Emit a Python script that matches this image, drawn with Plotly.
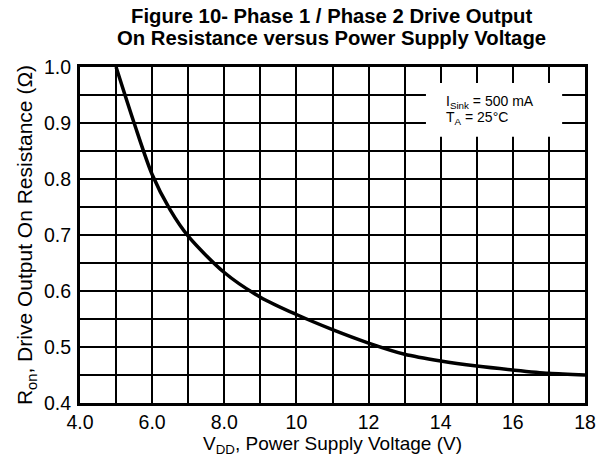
import plotly.graph_objects as go

vdd = [5.0, 5.5, 6.0, 6.5, 7.0, 8.0, 9.0, 10.0, 11.0, 12.0, 13.0, 14.0, 15.0, 16.0, 17.0, 18.0]
ron = [1.0, 0.90, 0.808, 0.745, 0.698, 0.633, 0.589, 0.558, 0.531, 0.507, 0.487, 0.475, 0.466, 0.459, 0.453, 0.450]

x_tickvals = [4, 6, 8, 10, 12, 14, 16, 18]
x_ticktext = ["4.0", "6.0", "8.0", "10", "12", "14", "16", "18"]
y_tickvals = [0.4, 0.5, 0.6, 0.7, 0.8, 0.9, 1.0]
y_ticktext = ["0.4", "0.5", "0.6", "0.7", "0.8", "0.9", "1.0"]

title_lines = ["<b>Figure 10- Phase 1 / Phase 2 Drive Output</b>",
               "<b>On Resistance versus Power Supply Voltage</b>"]
note_lines = ["I<sub>Sink</sub> = 500 mA", "T<sub>A</sub> = 25°C"]

FONT = "Arial, Liberation Sans, sans-serif"
L, R, T, B = 80, 588, 67, 404
PW, PH = R - L, B - T

def px(x):
    return (x - L) / PW

def py(y):
    return (B - y) / PH

fig = go.Figure()
fig.add_trace(go.Scatter(x=vdd, y=ron, mode="lines", line=dict(color="black", width=3.5, shape="spline", smoothing=0.8),
                         showlegend=False, hoverinfo="skip"))

fig.update_layout(
    width=608, height=463,
    margin=dict(l=L, r=608 - R, t=T, b=463 - B),
    paper_bgcolor="white", plot_bgcolor="white",
    font=dict(family=FONT, color="black", size=19),
    xaxis=dict(range=[4, 18], tickvals=x_tickvals, ticktext=x_ticktext, showgrid=True, gridcolor="black", gridwidth=2,
               minor=dict(dtick=1, tick0=4, showgrid=True, gridcolor="black", gridwidth=2),
               showline=True, linecolor="black", linewidth=3, mirror=True, ticks="", zeroline=False,
               tickfont=dict(size=19.5), ticklabelstandoff=0,
               title=dict(text="V<sub>DD</sub>, Power Supply Voltage (V)", font=dict(size=19), standoff=4)),
    yaxis=dict(range=[0.4, 1.0], tickvals=y_tickvals, ticktext=y_ticktext, showgrid=True, gridcolor="black", gridwidth=2,
               minor=dict(dtick=0.05, tick0=0.4, showgrid=True, gridcolor="black", gridwidth=2),
               showline=True, linecolor="black", linewidth=3, mirror=True, ticks="", zeroline=False,
               tickfont=dict(size=19.5), ticklabelstandoff=2,
               title=dict(text="R<sub>on</sub>, Drive Output On Resistance (Ω)", font=dict(size=21), standoff=6)),
)

for t, yc in zip(title_lines, [16, 38]):
    fig.add_annotation(xref="paper", yref="paper", x=px(333), y=py(yc), xanchor="center", yanchor="middle",
                       text=t, showarrow=False, font=dict(size=20.3, family=FONT))

fig.add_shape(type="rect", xref="paper", yref="paper", x0=px(428), x1=px(565),
              y0=py(137), y1=py(83), fillcolor="white", line=dict(width=0), layer="above")
for t, yc in zip(note_lines, [102, 118]):
    fig.add_annotation(xref="paper", yref="paper", x=px(446), y=py(yc), xanchor="left", yanchor="middle",
                       text=t, align="left", showarrow=False, font=dict(size=14, family=FONT))

fig.write_html("out.html", config={"displayModeBar": False},
               post_script="document.body.style.margin='0';")
